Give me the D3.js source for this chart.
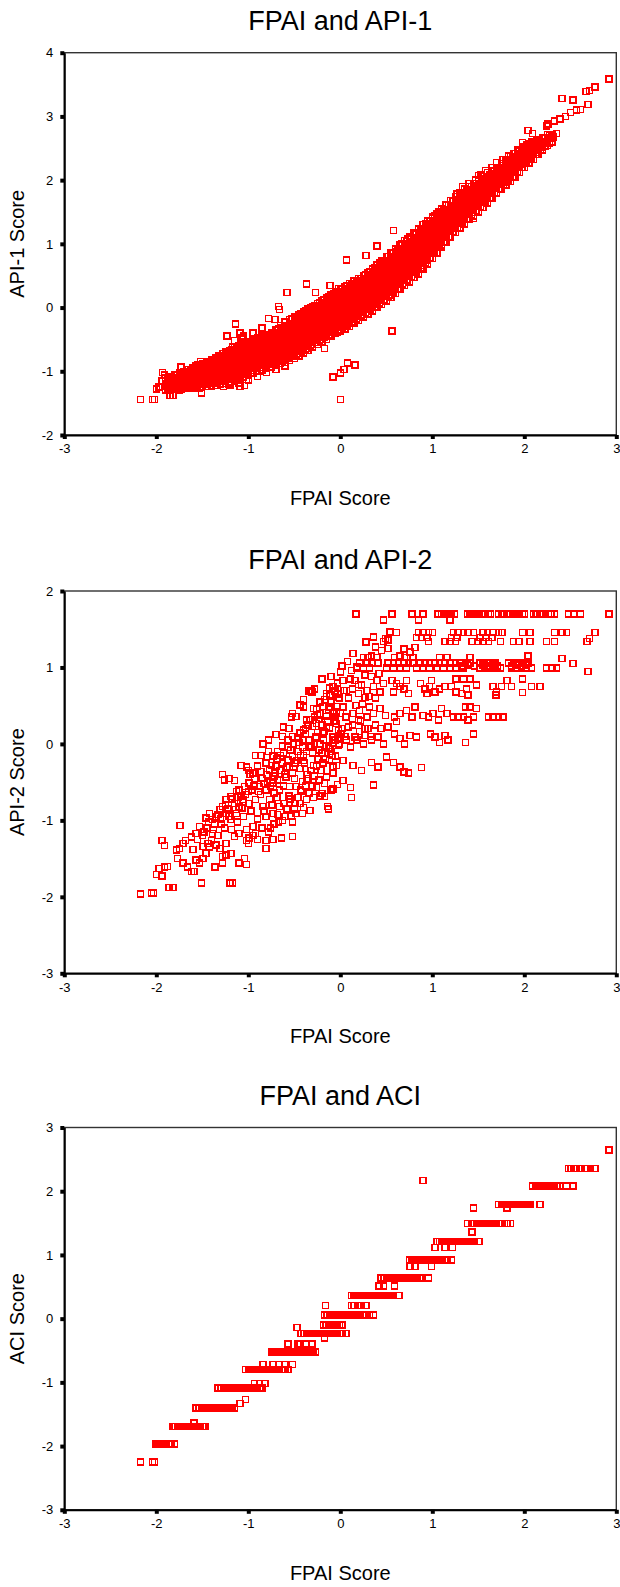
<!DOCTYPE html>
<html>
<head>
<meta charset="utf-8">
<script src="https://cdn.jsdelivr.net/npm/d3@7"></script>
<style>
  body { margin: 0; background: #fff; }
  svg { display: block; }
</style>
</head>
<body>
<div id="chart"></div>
<script>
// shared x axis
const xDomain = [-3, 3];
const xTicks = [-3, -2, -1, 0, 1, 2, 3];
const xLabel = "FPAI Score";

const titles = ["FPAI and API-1", "FPAI and API-2", "FPAI and ACI"];
const yLabels = ["API-1 Score", "API-2 Score", "ACI Score"];
const yDomains = [[-2, 4], [-3, 2], [-3, 3]];
const yTicks = [[-2, -1, 0, 1, 2, 3, 4], [-3, -2, -1, 0, 1, 2], [-3, -2, -1, 0, 1, 2, 3]];

// panel 1: FPAI vs API-1, scattered points
const api1Points = [
  [-1.97,-1.25],[-1.94,-1.15],[-1.9,-1.3],[-1.88,-1.1],[-1.85,-1.2],[-1.82,-1.27],[-1.8,-1.12],[-1.78,-1.05],[-1.75,-1.18],[-1.73,-1.28],[-1.7,-1.1],[-1.68,-1.2],[-1.66,-1.0],[-1.64,-1.14],[-1.62,-1.25],[-1.6,-1.06],
  [-1.58,-1.18],[-1.57,-0.92],[-1.55,-1.02],[-1.53,-1.27],[-1.52,-0.85],[-1.5,-1.12],[-1.48,-0.98],[-1.47,-1.2],[-1.45,-0.9],[-1.44,-1.06],[-1.42,-1.15],[-1.4,-0.82],[-1.39,-0.96],[-1.37,-1.1],[-1.35,-1.22],[-1.34,-0.88],[-1.32,-1.02],[-1.3,-0.76],[-1.29,-1.16],
  [-1.27,-0.92],[-1.26,-1.08],[-1.24,-0.7],[-1.22,-0.84],[-1.21,-1.2],[-1.19,-1.0],[-1.17,-0.62],[-1.16,-0.9],[-1.14,-1.12],[-1.12,-0.78],[-1.11,-0.97],[-1.09,-0.66],[-1.07,-1.05],[-1.06,-0.86],[-1.04,-0.72],[-1.02,-1.13],[-1.01,-0.93],[-0.99,-0.58],
  [-0.98,-0.8],[-0.97,-1.02],[-0.95,-0.68],[-0.93,-0.9],[-0.92,-0.5],[-0.9,-0.76],[-0.88,-1.0],[-0.87,-0.6],[-0.85,-0.84],[-0.83,-0.45],[-0.82,-0.7],[-0.8,-0.94],[-0.78,-0.55],[-0.77,-0.78],[-0.75,-0.4],[-0.73,-0.64],[-0.72,-0.88],[-0.7,-0.5],[-0.68,-0.72],[-0.67,-0.33],[-0.65,-0.6],[-0.63,-0.84],[-0.62,-0.44],
  [-0.6,-0.68],[-0.58,-0.28],[-0.57,-0.52],[-0.55,-0.78],[-0.53,-0.38],[-0.52,-0.62],[-0.5,-0.2],[-0.48,-0.46],[-0.47,-0.72],[-0.45,-0.3],[-0.43,-0.55],[-0.42,-0.12],[-0.4,-0.4],[-0.38,-0.66],[-0.37,-0.22],[-0.35,-0.48],[-0.33,-0.05],[-0.32,-0.32],[-0.3,-0.58],[-0.28,-0.15],[-0.27,-0.4],[-0.25,0.02],[-0.23,-0.26],[-0.22,-0.5],[-0.2,-0.08],
  [-0.18,-0.34],[-0.17,0.08],[-0.15,-0.18],[-0.13,-0.45],[-0.12,0.15],[-0.1,-0.05],[-0.08,-0.28],[-0.07,0.22],[-0.05,-0.12],[-0.03,-0.38],[-0.02,0.05],[0,-0.2],[0.02,0.28],[0.03,-0.02],[0.05,-0.3],[0.07,0.12],[0.08,-0.12],[0.1,0.35],[0.12,0.02],[0.13,-0.22],[0.15,0.2],[0.17,-0.06],[0.18,0.42],[0.2,0.1],
  [0.22,-0.12],[0.23,0.3],[0.25,0.05],[0.27,0.5],[0.28,0.18],[0.3,-0.02],[0.32,0.4],[0.33,0.12],[0.35,0.6],[0.37,0.28],[0.38,0.05],[0.4,0.48],[0.42,0.2],[0.43,0.7],[0.45,0.36],[0.47,0.12],[0.48,0.58],[0.5,0.28],[0.52,0.8],[0.53,0.45],[0.55,0.2],[0.57,0.66],[0.58,0.38],[0.6,0.88],
  [0.62,0.55],[0.63,0.3],[0.65,0.76],[0.67,1.0],[0.68,0.5],[0.7,0.85],[0.72,0.62],[0.73,1.08],[0.75,0.4],[0.77,0.92],[0.78,0.7],[0.8,1.15],[0.82,0.55],[0.83,0.98],[0.85,0.8],[0.87,1.22],[0.88,0.66],[0.9,1.05],[0.92,0.88],[0.93,1.32],[0.95,0.75],[0.97,1.12],[0.98,0.95],[1.0,1.4],
  [1.02,0.85],[1.03,1.2],[1.05,1.05],[1.07,1.5],[1.08,1.3],[1.1,0.98],[1.12,1.42],[1.13,1.15],[1.15,1.6],[1.17,1.3],[1.18,1.1],[1.2,1.5],[1.22,1.68],[1.23,1.25],[1.25,1.42],[1.27,1.78],[1.28,1.55],[1.3,1.35],[1.32,1.65],[1.33,1.9],[1.35,1.48],[1.37,1.72],[1.38,1.56],[1.4,1.95],
  [1.42,1.62],[1.43,1.82],[1.45,1.7],[1.47,2.0],[1.48,1.86],[1.5,1.66],[1.52,1.92],[1.53,2.08],[1.55,1.78],[1.57,1.98],[1.58,2.15],[1.6,1.88],[1.62,2.05],[1.63,1.82],[1.65,2.2],[1.67,1.95],[1.68,2.1],[1.7,2.28],[1.72,2.0],[1.73,2.16],[1.75,1.94],[1.77,2.32],[1.78,2.1],[1.8,2.22],
  [1.82,2.05],[1.83,2.38],[1.85,2.25],[1.87,2.15],[1.88,2.42],[1.9,2.3],[1.92,2.2],[1.93,2.48],[1.95,2.35],[1.97,2.25],[1.98,2.52],[2.0,2.4],[2.02,2.3],[2.03,2.55],[2.05,2.45],[2.07,2.38],[2.08,2.6],[2.1,2.5],[2.12,2.43],[2.14,2.62],[2.15,2.55],[2.18,2.6],[2.2,2.52],
  [2.23,2.61],[2.26,2.65],[2.32,2.68],[2.35,2.73],[2.17,2.59],[2.1,2.57],[2.03,2.54],[1.98,2.59],[2.04,2.78],[2.09,2.73],[2.24,2.85],[2.26,2.88],[2.33,2.93],[2.39,2.96],[2.45,3.0],[2.5,3.06],[2.57,3.1],[2.61,3.11],[2.69,3.19],[2.41,3.28],[2.53,3.26],[2.67,3.39],[2.71,3.41],[2.77,3.46],[2.92,3.59],
  [-2.17,-1.44],[-2.04,-1.44],[-2.02,-1.44],[-1.85,-1.38],[-1.82,-1.38],[-1.51,-1.34],[-1.93,-1.02],[-1.91,-1.06],[-2.0,-1.28],[-1.96,-1.24],[-1.89,-1.2],[-1.73,-0.93],[-1.34,-1.22],[-1.27,-1.24],[-1.09,-1.24],[-1.04,-1.22],
  [-1.14,-0.26],[-1.23,-0.45],[-1.09,-0.4],[-1.07,-0.48],[-0.58,0.24],[-0.37,0.37],[-0.27,0.24],[-0.67,0.02],[-0.66,-0.03],[-0.78,-0.17],[-0.71,-0.19],[0.07,0.75],[-0.17,-0.64],
  [-0.08,-1.09],[0,-1.03],[0.04,-0.97],[0.08,-0.87],[0.16,-0.9],[0,-1.44],[-0.11,0.35],[-0.02,0.3],[1.5,2.07],[0.56,-0.37],[0.58,1.21],[0.4,0.97],[0.28,0.82],[1.45,1.4],[1.74,1.87],[1.8,1.97],
  [-1.2,-1.22],[-1.1,-1.18],[-1.0,-1.14],[-0.9,-1.08],[-0.8,-1.02],[-0.7,-0.97],[-0.6,-0.92],[-1.15,-0.52],[-1.05,-0.45],[-0.95,-0.4],[-0.85,-0.32]
];

// panel 1 dense band, one column per FPAI value: [x, y, y, ...]
const api1Band = [
  [-1.9,-1.29,-1.22,-1.15,-1.1],[-1.85,-1.3,-1.23,-1.16,-1.08],[-1.8,-1.28,-1.21,-1.13,-1.06],[-1.75,-1.29,-1.22,-1.15,-1.08,-1.02],
  [-1.7,-1.27,-1.2,-1.13,-1.06,-1.0],[-1.65,-1.27,-1.2,-1.12,-1.04,-0.97],[-1.6,-1.26,-1.19,-1.11,-1.03,-0.95],[-1.55,-1.25,-1.18,-1.1,-1.02,-0.94,-0.9],
  [-1.5,-1.24,-1.17,-1.09,-1.01,-0.94,-0.88],[-1.45,-1.24,-1.16,-1.08,-1.0,-0.92,-0.85],[-1.4,-1.23,-1.15,-1.07,-0.99,-0.9,-0.82],[-1.35,-1.22,-1.14,-1.06,-0.97,-0.88,-0.79],
  [-1.3,-1.2,-1.12,-1.04,-0.95,-0.86,-0.76],[-1.25,-1.19,-1.11,-1.02,-0.93,-0.84,-0.75,-0.7],[-1.2,-1.17,-1.09,-1.0,-0.91,-0.82,-0.73,-0.67],[-1.15,-1.15,-1.07,-0.98,-0.89,-0.8,-0.71,-0.63],
  [-1.1,-1.12,-1.04,-0.95,-0.86,-0.77,-0.68,-0.6],[-1.05,-1.09,-1.01,-0.92,-0.83,-0.74,-0.65,-0.57],[-1.0,-1.06,-0.98,-0.89,-0.8,-0.71,-0.62,-0.54],[-0.95,-1.03,-0.95,-0.86,-0.77,-0.68,-0.59,-0.51],
  [-0.9,-1.0,-0.92,-0.83,-0.74,-0.65,-0.56,-0.48],[-0.85,-0.98,-0.89,-0.8,-0.71,-0.62,-0.53,-0.45],[-0.8,-0.95,-0.87,-0.78,-0.69,-0.6,-0.51,-0.42],[-0.75,-0.93,-0.84,-0.75,-0.66,-0.57,-0.48,-0.39],
  [-0.7,-0.9,-0.82,-0.73,-0.64,-0.55,-0.45,-0.35],[-0.65,-0.88,-0.79,-0.7,-0.61,-0.52,-0.42,-0.32,-0.28],[-0.6,-0.86,-0.77,-0.68,-0.58,-0.48,-0.38,-0.28,-0.23],[-0.55,-0.83,-0.74,-0.65,-0.55,-0.45,-0.35,-0.25,-0.19],
  [-0.5,-0.8,-0.71,-0.62,-0.52,-0.42,-0.32,-0.22,-0.15],[-0.45,-0.76,-0.67,-0.58,-0.48,-0.38,-0.28,-0.18,-0.11],[-0.4,-0.71,-0.62,-0.53,-0.43,-0.33,-0.23,-0.13,-0.07],[-0.35,-0.67,-0.58,-0.49,-0.39,-0.29,-0.19,-0.09,-0.02],
  [-0.3,-0.62,-0.53,-0.44,-0.34,-0.24,-0.14,-0.05,0.02],[-0.25,-0.58,-0.49,-0.4,-0.3,-0.2,-0.1,-0.01,0.06],[-0.2,-0.54,-0.45,-0.36,-0.26,-0.16,-0.06,0.03,0.11],[-0.15,-0.5,-0.41,-0.32,-0.22,-0.12,-0.02,0.07,0.15],
  [-0.1,-0.45,-0.36,-0.27,-0.17,-0.07,0.03,0.12,0.2],[-0.05,-0.41,-0.32,-0.23,-0.13,-0.03,0.07,0.16,0.24],[0,-0.37,-0.28,-0.19,-0.09,0.01,0.11,0.2,0.29],[0.05,-0.34,-0.25,-0.15,-0.05,0.05,0.15,0.24,0.33],
  [0.1,-0.3,-0.21,-0.11,-0.01,0.09,0.19,0.28,0.38],[0.15,-0.25,-0.16,-0.06,0.04,0.14,0.24,0.33,0.42],[0.2,-0.2,-0.11,-0.01,0.09,0.19,0.29,0.38,0.46],[0.25,-0.15,-0.06,0.04,0.14,0.24,0.34,0.43,0.5],
  [0.3,-0.1,-0.01,0.09,0.19,0.29,0.39,0.48,0.55],[0.35,-0.05,0.04,0.14,0.24,0.34,0.44,0.54,0.61],[0.4,0.0,0.09,0.19,0.29,0.39,0.49,0.59,0.67],[0.45,0.05,0.14,0.24,0.34,0.44,0.54,0.64,0.73],
  [0.5,0.1,0.19,0.29,0.39,0.49,0.59,0.69,0.8],[0.55,0.16,0.25,0.35,0.45,0.55,0.65,0.75,0.86],[0.6,0.22,0.31,0.41,0.51,0.61,0.71,0.81,0.92],[0.65,0.28,0.37,0.47,0.57,0.67,0.77,0.87,0.98],
  [0.7,0.35,0.44,0.54,0.64,0.74,0.84,0.94,1.05],[0.75,0.41,0.5,0.6,0.7,0.8,0.9,1.0,1.11],[0.8,0.47,0.56,0.66,0.76,0.86,0.96,1.06,1.17],[0.85,0.53,0.62,0.72,0.82,0.92,1.02,1.12,1.23],
  [0.9,0.6,0.69,0.79,0.89,0.99,1.09,1.19,1.3],[0.95,0.68,0.77,0.87,0.97,1.07,1.17,1.27,1.36],[1.0,0.77,0.86,0.96,1.06,1.16,1.26,1.35,1.42],[1.05,0.86,0.95,1.05,1.15,1.25,1.35,1.42,1.48],
  [1.1,0.95,1.04,1.14,1.24,1.34,1.44,1.55],[1.15,1.03,1.12,1.22,1.32,1.42,1.52,1.61],[1.2,1.1,1.19,1.29,1.39,1.49,1.59,1.68],[1.25,1.18,1.27,1.37,1.47,1.57,1.67,1.74],
  [1.3,1.25,1.34,1.44,1.54,1.64,1.74,1.8],[1.35,1.31,1.4,1.5,1.6,1.7,1.8,1.86],[1.4,1.38,1.47,1.56,1.65,1.74,1.83,1.9],[1.45,1.44,1.53,1.62,1.71,1.8,1.88,1.95],
  [1.5,1.5,1.59,1.68,1.77,1.86,1.94,2.0],[1.55,1.57,1.66,1.75,1.84,1.93,2.0,2.06],[1.6,1.64,1.73,1.82,1.91,2.0,2.06,2.12],[1.65,1.72,1.81,1.9,1.99,2.07,2.14],
  [1.7,1.8,1.89,1.98,2.06,2.14,2.2],[1.75,1.86,1.95,2.04,2.12,2.2,2.26],[1.8,1.92,2.01,2.1,2.18,2.26,2.32],[1.85,1.98,2.07,2.16,2.24,2.32,2.37],
  [1.9,2.05,2.14,2.22,2.3,2.37,2.42],[1.95,2.12,2.21,2.29,2.36,2.42,2.46],[2.0,2.2,2.28,2.35,2.42,2.48,2.52],[2.05,2.27,2.35,2.42,2.48,2.54,2.57],
  [2.1,2.32,2.4,2.47,2.53,2.6],[2.15,2.4,2.47,2.54,2.6,2.64],[2.2,2.47,2.54,2.6,2.66],[2.25,2.54,2.61,2.67,2.72],[2.3,2.6,2.66,2.72]
];

// panel 1 band, in-between columns
const api1BandMid = [
  [-1.875,-1.27,-1.19,-1.12],[-1.825,-1.26,-1.18,-1.1],[-1.775,-1.26,-1.18,-1.11,-1.05],[-1.725,-1.25,-1.17,-1.1,-1.03],
  [-1.675,-1.24,-1.16,-1.08,-1.01],[-1.625,-1.23,-1.15,-1.07,-0.99],[-1.575,-1.22,-1.14,-1.06,-0.98,-0.92],[-1.525,-1.21,-1.13,-1.05,-0.97,-0.9],
  [-1.475,-1.2,-1.12,-1.04,-0.96,-0.88],[-1.425,-1.19,-1.11,-1.03,-0.95,-0.86],[-1.375,-1.18,-1.1,-1.01,-0.92,-0.83],[-1.325,-1.16,-1.08,-0.99,-0.9,-0.81,-0.76],
  [-1.275,-1.15,-1.06,-0.97,-0.88,-0.79,-0.72],[-1.225,-1.13,-1.04,-0.95,-0.86,-0.77,-0.69],[-1.175,-1.11,-1.02,-0.93,-0.84,-0.75,-0.66],[-1.125,-1.08,-0.99,-0.9,-0.81,-0.72,-0.63],
  [-1.075,-1.05,-0.96,-0.87,-0.78,-0.69,-0.6],[-1.025,-1.02,-0.93,-0.84,-0.75,-0.66,-0.57],[-0.975,-0.99,-0.9,-0.81,-0.72,-0.63,-0.54],[-0.925,-0.96,-0.87,-0.78,-0.69,-0.6,-0.51],
  [-0.875,-0.94,-0.85,-0.76,-0.67,-0.58,-0.49],[-0.825,-0.91,-0.82,-0.73,-0.64,-0.55,-0.46],[-0.775,-0.89,-0.8,-0.71,-0.62,-0.53,-0.43],[-0.725,-0.86,-0.77,-0.68,-0.59,-0.5,-0.4],
  [-0.675,-0.84,-0.75,-0.66,-0.56,-0.46,-0.36],[-0.625,-0.82,-0.72,-0.63,-0.53,-0.43,-0.33],[-0.575,-0.79,-0.7,-0.6,-0.5,-0.4,-0.3],[-0.525,-0.76,-0.67,-0.57,-0.47,-0.37,-0.27,-0.18],
  [-0.475,-0.73,-0.63,-0.53,-0.43,-0.33,-0.23,-0.14],[-0.425,-0.69,-0.59,-0.49,-0.39,-0.29,-0.19,-0.1],[-0.375,-0.64,-0.55,-0.45,-0.35,-0.25,-0.15,-0.05],[-0.325,-0.6,-0.5,-0.4,-0.3,-0.2,-0.1,-0.01],
  [-0.275,-0.55,-0.46,-0.36,-0.26,-0.16,-0.06,0.03],[-0.225,-0.51,-0.42,-0.32,-0.22,-0.12,-0.02,0.08],[-0.175,-0.47,-0.37,-0.28,-0.18,-0.08,0.02,0.12],[-0.125,-0.43,-0.33,-0.23,-0.13,-0.03,0.07,0.17],
  [-0.075,-0.39,-0.29,-0.19,-0.09,0.01,0.11,0.21],[-0.025,-0.35,-0.25,-0.15,-0.05,0.05,0.15,0.25],[0.025,-0.31,-0.21,-0.11,-0.01,0.09,0.19,0.29],[0.075,-0.27,-0.17,-0.07,0.03,0.13,0.23,0.34],
  [0.125,-0.23,-0.13,-0.03,0.07,0.17,0.27,0.38],[0.175,-0.18,-0.08,0.02,0.12,0.22,0.32,0.42],[0.225,-0.13,-0.03,0.07,0.17,0.27,0.37,0.46],[0.275,-0.08,0.02,0.12,0.22,0.32,0.42,0.51],
  [0.325,-0.03,0.07,0.17,0.27,0.37,0.47,0.56],[0.375,0.02,0.12,0.22,0.32,0.42,0.52,0.62],[0.425,0.07,0.17,0.27,0.37,0.47,0.57,0.68],[0.475,0.12,0.22,0.32,0.42,0.52,0.62,0.74],
  [0.525,0.18,0.28,0.38,0.48,0.58,0.68,0.8],[0.575,0.24,0.34,0.44,0.54,0.64,0.74,0.86],[0.625,0.3,0.4,0.5,0.6,0.7,0.8,0.92],[0.675,0.37,0.47,0.57,0.67,0.77,0.87,0.98],
  [0.725,0.43,0.53,0.63,0.73,0.83,0.93,1.04],[0.775,0.49,0.59,0.69,0.79,0.89,0.99,1.1],[0.825,0.55,0.65,0.75,0.85,0.95,1.05,1.16],[0.875,0.62,0.72,0.82,0.92,1.02,1.12,1.22],
  [0.925,0.7,0.8,0.9,1.0,1.1,1.2,1.29],[0.975,0.78,0.88,0.98,1.08,1.18,1.28,1.36],[1.025,0.87,0.97,1.07,1.17,1.27,1.37,1.44],[1.075,0.96,1.06,1.16,1.26,1.36,1.46],
  [1.125,1.04,1.14,1.24,1.34,1.44,1.54],[1.175,1.11,1.21,1.31,1.41,1.51,1.6],[1.225,1.19,1.29,1.39,1.49,1.59,1.67],[1.275,1.26,1.36,1.46,1.56,1.66,1.74],
  [1.325,1.33,1.42,1.52,1.62,1.72,1.8],[1.375,1.39,1.48,1.57,1.66,1.76,1.84],[1.425,1.46,1.55,1.64,1.73,1.82,1.9],[1.475,1.52,1.61,1.7,1.79,1.88,1.95],
  [1.525,1.59,1.68,1.77,1.86,1.94],[1.575,1.66,1.75,1.84,1.93,2.02],[1.625,1.73,1.82,1.91,2.0,2.08],[1.675,1.8,1.89,1.98,2.06,2.14],
  [1.725,1.87,1.96,2.05,2.13,2.2],[1.775,1.93,2.02,2.11,2.19,2.26],[1.825,2.0,2.09,2.17,2.25,2.31],[1.875,2.06,2.15,2.23,2.31,2.37],
  [1.925,2.13,2.22,2.3,2.37,2.42],[1.975,2.2,2.28,2.36,2.43,2.47],[2.025,2.27,2.35,2.42,2.49,2.53],[2.075,2.33,2.41,2.48,2.55],
  [2.125,2.4,2.47,2.54,2.6],[2.175,2.47,2.54,2.61],[2.225,2.53,2.6,2.67],[2.275,2.58,2.65,2.7]
];

// panel 2: FPAI vs API-2
const api2Points = [
  [-2.17,-1.96],[-2.05,-1.95],[-2.03,-1.95],[-1.86,-1.88],[-1.82,-1.88],[-2.0,-1.71],[-1.94,-1.73],[-1.91,-1.61],[-1.88,-1.6],[-1.97,-1.63],[-1.94,-1.26],[-1.91,-1.33],[-1.78,-1.39],[-1.75,-1.37],[-1.77,-1.5],[-1.74,-1.07],
  [-1.71,-1.3],[-1.68,-1.26],[-1.62,-1.22],[-1.57,-1.17],[-1.53,-1.08],[-1.46,-0.97],[-1.42,-0.91],[-1.39,-0.99],[-1.71,-1.56],[-1.66,-1.61],[-1.62,-1.67],[-1.59,-1.67],[-1.57,-1.52],[-1.53,-1.56],[-1.49,-1.5],[-1.46,-1.43],[-1.51,-1.82],[-1.49,-1.34],[-1.44,-1.3],[-1.4,-1.26],[-1.39,-1.17],[-1.35,-1.32],[-1.31,-1.37],[-1.36,-1.61],[-1.28,-1.56],[-1.28,-1.47],[-1.24,-1.45],[-1.19,-1.43],[-1.1,-1.56],[-1.02,-1.58],[-1.04,-1.5],[-1.2,-1.82],[-1.17,-1.82],
  [-1.35,-0.95],[-1.31,-0.86],[-1.28,-0.82],[-1.24,-0.73],[-1.19,-0.69],[-1.13,-0.62],[-1.1,-0.6],[-1.04,-0.56],[-0.99,-0.51],[-1.24,-0.91],[-1.19,-0.99],[-1.13,-0.91],[-1.1,-0.82],[-1.06,-0.73],[-1.02,-1.12],[-1.1,-1.17],[-1.15,-1.21],[-1.24,-1.3],[-0.95,-1.08],[-0.99,-1.23],[-0.92,-1.17],[-1.02,-1.26],
  [-1.28,-0.4],[-1.26,-0.47],[-1.21,-0.45],[-1.08,-0.28],
  [-0.95,-0.38],[-0.9,-0.29],[-0.84,0.0],[-0.81,-0.25],[-0.77,-0.34],[-0.88,-0.56],[-0.81,-0.6],[-0.73,-0.51],[-0.68,-0.47],[-0.92,-0.73],[-0.84,-0.82],[-0.77,-0.73],[-0.72,-0.64],[-0.66,-0.6],[-0.81,-0.95],[-0.73,-0.91],[-0.66,-0.82],[-0.61,-0.78],[-0.81,-1.26],[-0.73,-1.25],[-0.64,-1.23],[-0.52,-1.21],[-0.81,-1.37],[-0.53,-0.95],[-0.52,-1.02],[-0.48,-0.91],
  [-0.73,-0.16],[-0.68,-0.1],[-0.63,-0.03],[-0.57,0.05],[-0.52,0.1],[-0.44,0.14],[-0.41,0.05],[-0.7,-0.29],[-0.63,-0.25],[-0.57,-0.21],[-0.52,-0.16],[-0.46,-0.1],[-0.41,-0.05],[-0.59,-0.43],[-0.52,-0.38],[-0.44,-0.32],[-0.39,-0.25],[-0.55,-0.56],[-0.48,-0.56],[-0.41,-0.49],[-0.37,-0.73],[-0.44,-0.78],[-0.34,-0.64],[-0.41,-0.91],
  [-0.34,0.69],[-0.32,0.69],[-0.44,0.51],[-0.53,0.35],[-0.48,0.36],[-0.63,0.1],
  [-0.26,0.45],[-0.19,0.49],[-0.15,0.62],[-0.12,0.73],[-0.06,0.69],[-0.03,0.8],[-0.3,0.23],[-0.23,0.32],[-0.15,0.36],[-0.08,0.4],[-0.03,0.49],[-0.34,0.05],[-0.26,0.1],[-0.19,0.14],[-0.12,0.21],[-0.05,0.27],[-0.3,-0.12],[-0.23,-0.08],[-0.15,-0.03],[-0.08,0.01],[-0.03,0.08],[-0.26,-0.29],[-0.19,-0.25],[-0.12,-0.21],[-0.05,-0.16],[-0.23,-0.47],[-0.15,-0.43],[-0.08,-0.38],[-0.22,-0.68],[-0.17,-0.69],[-0.14,-0.82],[-0.1,-0.6],[-0.03,-0.53],
  [-1.6,-1.38],[-1.55,-1.25],[-1.5,-1.2],[-1.45,-1.1],[-1.42,-1.35],[-1.37,-1.05],[-1.33,-1.2],[-1.3,-0.98],[-1.26,-1.1],[-1.22,-0.85],[-1.18,-1.12],[-1.15,-0.78],[-1.12,-1.02],[-1.08,-0.68],[-1.05,-0.95],[-1.0,-0.62],[-0.97,-0.88],[-0.94,-0.55],[-0.9,-0.98],[-0.87,-0.66],[-0.85,-0.45],[-0.83,-0.88],[-0.79,-0.5],[-0.76,-1.1],[-0.74,-0.8],[-0.71,-0.38],[-0.69,-0.7],[-0.67,-1.02],[-0.64,-0.35],[-0.62,-0.55],[-0.6,-0.95],[-0.58,-0.3],[-0.56,-0.68],[-0.54,-0.08],[-0.5,-0.45],[-0.49,-0.78],[-0.47,-0.22],[-0.45,0.02],[-0.43,-0.6],[-0.4,-0.15],[-0.38,0.2],[-0.36,-0.4],[-0.33,0.32],[-0.31,-0.55],[-0.28,0.0],[-0.25,0.38],[-0.21,-0.35],[-0.18,0.05],[-0.13,0.45],[-0.1,-0.1],[-0.07,0.3],[-0.04,-0.28],[-0.01,0.6],[-0.02,0.18],[-0.56,0.2],[-0.65,-0.15],[-0.78,-0.1],[-0.86,-0.15],[-0.98,-0.4],[-1.0,-0.35],
  [-0.31,0.68],[-0.4,0.48],[-0.29,0.46],[-0.22,0.4],[-0.11,0.48],[-0.04,0.42],[0.03,0.48],[-0.37,0.31],[-0.26,0.27],[-0.15,0.22],[-0.04,0.27],[-0.38,0.13],[-0.27,0.09],[-0.17,0.16],[-0.08,0.09],[0.01,0.13],[-0.33,-0.04],[-0.22,0.0],[-0.11,-0.06],[-0.02,-0.02],[0.07,0.05],
  [0.11,-0.04],[0.16,0.09],[0.21,0.16],[0.27,0.2],
  [-0.4,-0.22],[-0.29,-0.28],[-0.18,-0.24],[-0.08,-0.3],[0.03,-0.22],[0.14,-0.28],[0.23,-0.35],[-0.37,-0.48],[-0.26,-0.57],[-0.17,-0.52],[-0.08,-0.59],[0.03,-0.48],[0.11,-0.57],[0.12,-0.7],[-0.4,-0.83],[-0.33,-0.87],[-0.13,-0.85],[-0.29,-0.7],[-0.2,-0.65],
  [0.16,0.83],[0.23,0.77],[0.29,0.7],[0.36,0.75],[0.43,0.68],[0.2,0.66],[0.27,0.61],[0.4,0.83],[0.47,0.79],[-0.11,0.64],[-0.08,0.75],[-0.15,0.66],[0.03,0.83],[0.11,0.85],[0.07,0.7],[-0.02,0.61],[0.0,0.94],[0.12,0.96],[0.18,1.01],
  [0.47,1.34],[0.52,1.36],[0.49,1.38],[0.54,1.47],
  [0.56,0.83],[0.61,0.79],[0.69,0.72],[0.74,0.66],[0.58,0.68],[0.65,0.75],[0.72,0.83],
  [0.87,0.79],[0.92,0.72],[0.97,0.75],[1.03,0.68],[1.08,0.72],[0.94,0.66],[0.99,0.83],[1.14,0.75],
  [1.21,0.75],[1.26,0.68],[1.32,0.66],[1.37,0.72],[1.39,0.64],[1.26,0.85],[1.34,0.85],[1.41,0.85],[1.48,0.77],
  [1.66,0.75],[1.7,0.68],[1.75,0.75],[1.81,0.83],[1.86,0.75],[1.69,0.64],
  [1.98,0.85],[1.98,0.67],[2.08,0.75],[2.17,0.75],
  [0.14,0.4],[0.21,0.44],[0.29,0.35],[0.36,0.4],[0.43,0.46],[0.49,0.37],[0.2,0.31],[0.32,0.48],
  [0.59,0.35],[0.65,0.4],[0.72,0.44],[0.78,0.35],[0.81,0.48],[0.61,0.29],
  [0.9,0.37],[0.96,0.35],[1.01,0.4],[1.07,0.31],[1.1,0.46],[1.16,0.4],
  [1.23,0.35],[1.28,0.35],[1.34,0.35],[1.39,0.31],[1.45,0.35],[1.36,0.48],[1.41,0.48],[1.48,0.46],
  [1.61,0.35],[1.66,0.35],[1.72,0.35],[1.77,0.35],
  [0.27,0.11],[0.34,0.05],[0.41,0.09],[0.47,0.0],
  [0.59,0.13],[0.65,0.07],[0.7,0.0],[0.76,0.11],[0.83,0.09],
  [0.98,0.13],[1.03,0.09],[1.08,0.02],[1.14,0.11],[1.17,0.05],[1.36,0.02],[1.45,0.13],
  [0.34,-0.24],[0.41,-0.3],[0.5,-0.17],[0.58,-0.24],[0.65,-0.3],[0.69,-0.37],[0.74,-0.38],[0.88,-0.31],[0.36,-0.54],
  [0.17,1.7],[0.56,1.7],[0.78,1.7],[0.9,1.7],[1.06,1.7],[1.1,1.7],[1.15,1.7],[1.19,1.7],[1.24,1.7],[1.38,1.7],[1.43,1.7],[1.48,1.7],[1.54,1.7],[1.58,1.7],[1.63,1.7],[1.72,1.7],[1.77,1.7],[1.81,1.7],[1.85,1.7],[1.9,1.7],[1.95,1.7],[2.0,1.7],[2.1,1.7],[2.14,1.7],[2.19,1.7],[2.23,1.7],[2.29,1.7],[2.33,1.7],[2.48,1.7],[2.54,1.7],[2.61,1.7],[2.92,1.7],
  [0.47,1.62],[0.85,1.62],[1.19,1.62],
  [0.54,1.46],[0.61,1.46],[0.85,1.46],[0.9,1.46],[0.96,1.46],[1.0,1.46],[1.23,1.46],[1.28,1.46],[1.34,1.46],[1.39,1.46],[1.45,1.46],[1.55,1.46],[1.6,1.46],[1.66,1.46],[1.72,1.46],[1.76,1.46],[1.98,1.46],[2.06,1.46],[2.33,1.46],[2.41,1.46],[2.46,1.46],[2.77,1.46],
  [0.83,1.39],[0.88,1.39],[0.94,1.39],[1.21,1.39],[1.27,1.39],[1.52,1.39],[1.59,1.39],[1.65,1.39],
  [0.96,1.34],[1.14,1.34],[1.19,1.34],[1.25,1.34],[1.43,1.34],[1.5,1.34],[1.55,1.34],[1.61,1.34],[1.74,1.34],[1.88,1.34],[1.94,1.34],[2.06,1.34],[2.24,1.34],[2.33,1.34],[2.68,1.34],[2.71,1.38],
  [0.38,1.27],[0.45,1.22],[0.52,1.25],[0.69,1.24],[0.76,1.2],[0.81,1.26],
  [0.25,1.13],[0.3,1.13],[0.34,1.15],[0.4,1.13],[0.59,1.13],[0.65,1.15],[0.7,1.13],[0.79,1.13],[1.08,1.13],[1.16,1.13],[1.41,1.13],[2.04,1.15],[2.41,1.12],
  [0.21,1.06],[0.29,1.06],[0.34,1.06],[0.41,1.06],[0.52,1.06],[0.58,1.06],[0.63,1.06],[0.69,1.06],[0.74,1.06],[0.79,1.06],[0.87,1.06],[0.92,1.06],[0.97,1.06],[1.03,1.06],[1.08,1.06],[1.14,1.06],[1.19,1.06],[1.25,1.06],[1.3,1.06],[1.36,1.06],[1.41,1.06],[1.52,1.06],[1.57,1.06],[1.63,1.06],[1.68,1.06],[1.83,1.06],[1.88,1.06],[1.94,1.06],[1.99,1.06],[2.04,1.06],[2.53,1.05],
  [0.18,0.99],[0.25,0.99],[0.32,0.99],[0.5,0.99],[0.58,0.99],[0.65,0.99],[0.72,0.99],[0.83,0.99],[0.9,0.99],[0.97,0.99],[1.05,0.99],[1.12,0.99],[1.19,0.99],[1.26,0.99],[1.34,0.99],[1.52,0.99],[1.57,0.99],[1.63,0.99],[1.68,0.99],[1.74,0.99],[1.86,0.99],[1.92,0.99],[1.97,0.99],[2.02,0.99],[2.08,0.99],[2.24,0.99],[2.3,0.99],[2.35,0.99],[2.69,0.95]
];

// panel 2, the denser diagonal streaks and filled rows
const api2Streaks = [
  [-1.48,-1.15],[-1.43,-1.02],[-1.38,-1.12],[-1.33,-0.92],[-1.29,-1.05],[-1.25,-0.8],[-1.21,-0.95],[-1.17,-0.72],[-1.14,-0.86],[-1.11,-0.7],[-1.07,-0.84],[-1.03,-0.66],[-0.99,-0.78],[-0.96,-0.6],[-0.93,-0.45],[-0.89,-0.62],[-0.86,-0.36],[-0.83,-0.52],[-0.8,-0.4],[-0.76,-0.55],[-0.75,-0.28],[-0.72,-0.42],[-0.69,-0.2],[-0.66,-0.35],[-0.62,-0.12],[-0.6,-0.4],[-0.57,-0.05],[-0.55,-0.3],[-0.51,0.0],[-0.49,-0.25],[-0.46,0.08],[-0.43,-0.15],[-0.4,0.18],[-0.37,-0.1],[-0.35,0.25],[-0.32,-0.02],[-0.28,0.35],[-0.25,0.15],[-0.22,0.55],[-0.2,0.25],[-0.17,0.58],[-0.14,0.3],[-0.1,0.55],[-0.06,0.35],[-0.03,0.65],[0.0,0.4],[0.04,0.7],[0.06,0.35],[0.09,0.6],[0.13,0.72],[0.17,0.5],[0.2,0.78],[0.24,0.52],[0.27,0.9],[0.31,0.62],[0.34,0.88],[0.38,0.6],[0.42,0.92],
  [-1.0,-1.3],[-0.95,-1.2],[-0.9,-1.25],[-0.85,-1.1],[-0.78,-1.15],[-0.72,-1.05],[-0.68,-0.92],[-0.63,-1.0],[-0.58,-0.85],[-0.54,-0.72],[-0.5,-0.85],[-0.46,-0.7],[-0.42,-0.62],[-0.38,-0.55],[-0.35,-0.45],[-0.32,-0.35],[-0.28,-0.42],[-0.24,-0.2],[-0.2,-0.12],[-0.16,-0.2],[-0.13,-0.05],[-0.09,-0.15],[-0.06,0.05],[-0.01,0.0],[0.02,0.2],[0.05,0.1],[0.09,0.22],[0.13,0.25],[0.18,0.05],[0.22,0.3],[0.25,0.0],[0.3,0.2],[0.33,0.1],[0.38,0.25],[0.44,0.2],[0.52,0.22],
  [-1.15,-0.48],[-1.02,-0.3],[-0.92,-0.15],[-0.78,0.05],[-0.7,0.12],[-0.62,0.22],[-0.52,0.4],[-0.4,0.58],[-0.28,0.72],[-0.2,0.85],[-0.1,0.88],[0.02,1.02],[0.08,1.08],[0.14,1.18],[0.28,1.33],[0.36,1.4],
  [1.33,1.02],[1.38,1.03],[1.46,1.02],[1.55,1.03],[1.6,1.02],[1.66,1.03],[1.71,1.02],[1.86,1.02],[1.91,1.03],[1.97,1.02],[2.02,1.03],[1.75,1.7],[1.83,1.7],[1.88,1.7],[1.93,1.7],[1.98,1.7],[2.12,1.7],[2.17,1.7],[2.21,1.7],[1.12,1.7],[1.17,1.7],[1.21,1.7],[1.41,1.7],[1.46,1.7],[1.51,1.7],[1.56,1.7],[1.61,1.7]
];

// panel 3: FPAI vs ACI, ACI takes discrete levels; x values of each run
const aciLevels = [-2.25, -1.97, -1.69, -1.4, -1.09, -0.8, -0.52, -0.23, -0.1, 0.06, 0.36, 0.64, 0.92, 1.21, 1.49, 1.79, 2.08, 2.36, 2.65];
const aciRows = [
  [-2.17,-2.04,-2.02],
  [-2.01,-1.99,-1.98,-1.96,-1.95,-1.93,-1.92,-1.9,-1.89,-1.87,-1.86,-1.84,-1.8],
  [-1.82,-1.8,-1.79,-1.77,-1.76,-1.74,-1.73,-1.71,-1.7,-1.68,-1.67,-1.65,-1.64,-1.62,-1.61,-1.59,-1.58,-1.56,-1.55,-1.53,-1.52,-1.5,-1.49,-1.47],
  [-1.57,-1.54,-1.53,-1.51,-1.5,-1.48,-1.47,-1.45,-1.44,-1.42,-1.41,-1.39,-1.38,-1.36,-1.35,-1.33,-1.32,-1.3,-1.29,-1.27,-1.26,-1.24,-1.23,-1.21,-1.2,-1.18,-1.17,-1.15],
  [-1.33,-1.3,-1.29,-1.27,-1.26,-1.24,-1.23,-1.21,-1.2,-1.18,-1.17,-1.15,-1.14,-1.12,-1.11,-1.09,-1.08,-1.06,-1.05,-1.03,-1.02,-1.0,-0.99,-0.97,-0.96,-0.94,-0.93,-0.91,-0.9,-0.88,-0.87,-0.85],
  [-1.03,-1.0,-0.99,-0.97,-0.96,-0.94,-0.93,-0.91,-0.9,-0.88,-0.87,-0.85,-0.84,-0.82,-0.81,-0.79,-0.78,-0.76,-0.75,-0.73,-0.72,-0.7,-0.69,-0.67,-0.66,-0.64,-0.63,-0.61,-0.6,-0.57],
  [-0.75,-0.74,-0.72,-0.71,-0.69,-0.68,-0.66,-0.65,-0.63,-0.62,-0.6,-0.59,-0.57,-0.56,-0.54,-0.53,-0.51,-0.5,-0.48,-0.47,-0.45,-0.44,-0.42,-0.41,-0.39,-0.38,-0.36,-0.35,-0.33,-0.32,-0.3,-0.29,-0.27],
  [-0.43,-0.42,-0.4,-0.39,-0.37,-0.36,-0.34,-0.33,-0.31,-0.3,-0.28,-0.27,-0.25,-0.24,-0.22,-0.21,-0.19,-0.18,-0.16,-0.15,-0.13,-0.12,-0.1,-0.09,-0.07,-0.06,-0.04,-0.03,-0.01,0.02,0.06],
  [-0.18,-0.16,-0.15,-0.13,-0.12,-0.1,-0.09,-0.07,-0.06,-0.04,-0.03,-0.01,0.02],
  [-0.17,-0.15,-0.14,-0.12,-0.11,-0.09,-0.08,-0.06,-0.05,-0.03,-0.02,0.0,0.01,0.03,0.04,0.06,0.07,0.09,0.1,0.12,0.13,0.15,0.16,0.18,0.19,0.21,0.22,0.24,0.25,0.27,0.28,0.32,0.36],
  [0.12,0.15,0.16,0.18,0.19,0.21,0.22,0.24,0.25,0.27,0.28,0.3,0.31,0.33,0.34,0.36,0.37,0.39,0.4,0.42,0.43,0.45,0.46,0.48,0.49,0.51,0.52,0.54,0.55,0.57,0.58,0.64],
  [0.44,0.45,0.47,0.48,0.5,0.51,0.53,0.54,0.56,0.57,0.59,0.6,0.62,0.63,0.65,0.66,0.68,0.69,0.71,0.72,0.74,0.75,0.77,0.78,0.8,0.81,0.83,0.84,0.86,0.87,0.89,0.96],
  [0.75,0.78,0.8,0.81,0.83,0.84,0.86,0.87,0.89,0.9,0.92,0.93,0.95,0.96,0.98,0.99,1.01,1.02,1.04,1.05,1.07,1.08,1.1,1.11,1.13,1.14,1.16,1.21],
  [1.05,1.08,1.1,1.11,1.13,1.14,1.16,1.17,1.19,1.2,1.22,1.23,1.25,1.26,1.28,1.29,1.31,1.32,1.34,1.35,1.37,1.38,1.4,1.41,1.43,1.44,1.46,1.51],
  [1.38,1.43,1.45,1.46,1.48,1.49,1.51,1.52,1.54,1.55,1.57,1.58,1.6,1.61,1.63,1.64,1.66,1.67,1.69,1.7,1.72,1.73,1.75,1.76,1.81,1.85],
  [1.72,1.75,1.77,1.78,1.8,1.81,1.83,1.84,1.86,1.87,1.89,1.9,1.92,1.93,1.95,1.96,1.98,1.99,2.01,2.02,2.04,2.05,2.07,2.17],
  [2.09,2.12,2.14,2.15,2.17,2.18,2.2,2.21,2.23,2.24,2.26,2.27,2.29,2.3,2.32,2.33,2.35,2.36,2.38,2.46,2.53],
  [2.48,2.51,2.54,2.56,2.6,2.62,2.66,2.68,2.72,2.77],
  [2.92]
];
const aciExtra = [
  [-1.59,-1.64],[-1.09,-1.33],[-1.03,-1.27],[-0.93,-1.02],[-0.88,-1.02],[-0.82,-1.02],
  [-0.84,-0.72],[-0.73,-0.72],[-0.67,-0.72],[-0.6,-0.72],[-0.52,-0.72],
  [-0.57,-0.4],[-0.46,-0.4],[-0.37,-0.4],[-0.31,-0.4],[-0.44,-0.4],
  [-0.47,-0.14],[-0.17,-0.3],[-0.16,0.21],[0.12,0.21],[0.15,0.21],[0.19,0.21],[0.23,0.21],[0.28,0.21],
  [0.42,0.51],[0.47,0.51],[0.59,0.51],[0.76,0.82],[0.81,0.82],[0.99,0.82],
  [1.03,1.12],[1.14,1.12],[1.22,1.12],[1.43,1.36],[1.45,1.74],[1.81,1.74],[0.9,2.17]
];

const columnsToPoints = cols => cols.flatMap(([cx, ...ys]) => ys.map(v => [cx, v]));
const aciPoints = aciRows.flatMap((xs, i) => xs.map(v => [v, aciLevels[i]])).concat(aciExtra);
const panelPoints = [
    api1Points.concat(columnsToPoints(api1Band), columnsToPoints(api1BandMid)),
    api2Points.concat(api2Streaks),
    aciPoints
];

const width = 620, height = 1587;
const plotLeft = 64.3, plotRight = 616.3, plotH = 382.3;
const panelTops = [52.7, 591, 1127.5];
const font = "'Liberation Sans', Arial, Helvetica, sans-serif";

const svg = d3.select("#chart").append("svg")
    .attr("width", width)
    .attr("height", height)
    .style("background", "#fff");

const x = d3.scaleLinear().domain(xDomain).range([plotLeft, plotRight]);

panelPoints.forEach((pts, i) => {
    const top = panelTops[i];
    const y = d3.scaleLinear().domain(yDomains[i]).range([top + plotH, top]);
    const g = svg.append("g").attr("class", "panel");

    // title
    g.append("text")
        .attr("x", (plotLeft + plotRight) / 2)
        .attr("y", top - 22.5)
        .attr("text-anchor", "middle")
        .attr("font-family", font)
        .attr("font-size", 27)
        .text(titles[i]);

    // frame
    g.append("rect")
        .attr("x", plotLeft).attr("y", top)
        .attr("width", plotRight - plotLeft).attr("height", plotH)
        .attr("fill", "none")
        .attr("stroke", "#333")
        .attr("stroke-width", 1.4);

    // points, hollow squares drawn on whole pixels like the original bitmap
    g.append("g")
        .attr("shape-rendering", "crispEdges")
        .selectAll("rect")
        .data(pts)
        .join("rect")
        .attr("x", d => x(d[0]) - 3)
        .attr("y", d => y(d[1]) - 3)
        .attr("width", 6)
        .attr("height", 6)
        .attr("fill", "none")
        .attr("stroke", "#ff0000")
        .attr("stroke-width", 1.5);

    const yAxis = d3.axisLeft(y).tickValues(yTicks[i]).tickSize(4).tickSizeOuter(0).tickPadding(7)
        .tickFormat(d => String(d));
    const xAxis = d3.axisBottom(x).tickValues(xTicks).tickSize(4).tickSizeOuter(0).tickPadding(5)
        .tickFormat(d => String(d));

    const ya = g.append("g").attr("transform", `translate(${plotLeft},0)`).call(yAxis);
    const xa = g.append("g").attr("transform", `translate(0,${top + plotH})`).call(xAxis);

    [ya, xa].forEach(a => {
        a.attr("font-family", font).attr("font-size", 13);
        a.select(".domain").attr("stroke", "#000").attr("stroke-width", 2);
        a.selectAll(".tick line").attr("stroke", "#000").attr("stroke-width", 4);
        a.selectAll(".tick text").attr("fill", "#000");
    });

    // axis titles
    g.append("text")
        .attr("x", (plotLeft + plotRight) / 2)
        .attr("y", top + plotH + 70)
        .attr("text-anchor", "middle")
        .attr("font-family", font)
        .attr("font-size", 20)
        .text(xLabel);

    g.append("text")
        .attr("transform", `translate(24,${top + plotH / 2}) rotate(-90)`)
        .attr("text-anchor", "middle")
        .attr("font-family", font)
        .attr("font-size", 20)
        .text(yLabels[i]);
});
</script>
</body>
</html>
